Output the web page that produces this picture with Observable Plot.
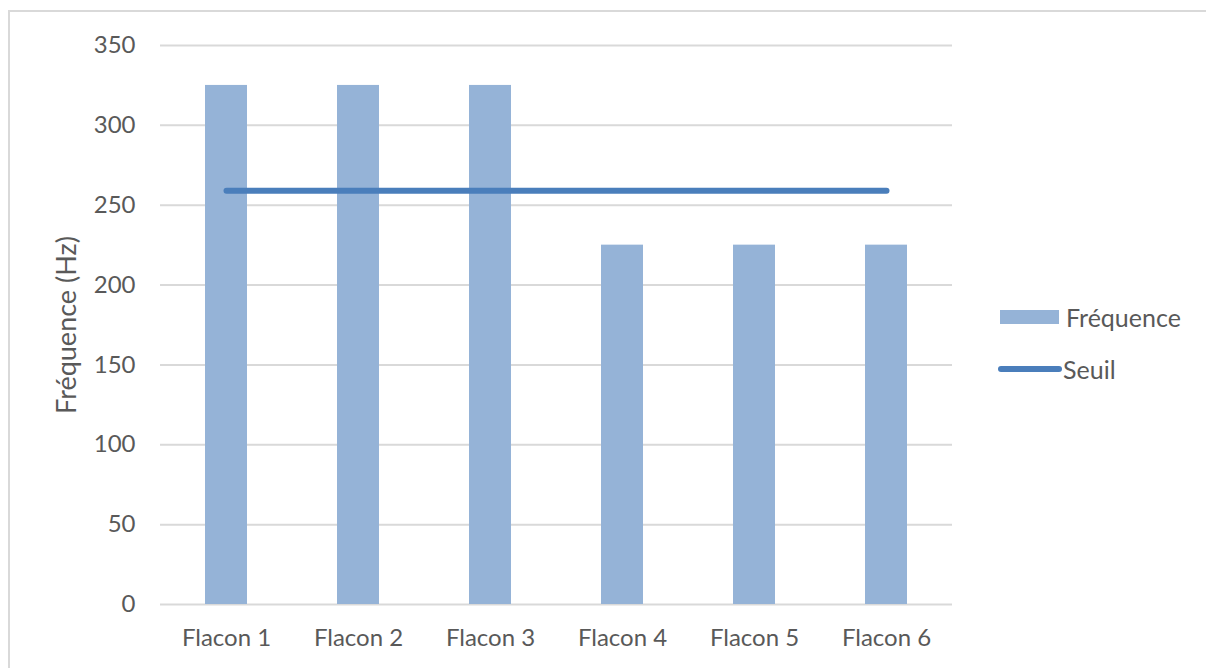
<!DOCTYPE html>
<html>
<head>
<meta charset="utf-8">
<script src="https://cdn.jsdelivr.net/npm/d3@7"></script>
<script src="https://cdn.jsdelivr.net/npm/@observablehq/plot@0.6"></script>
<style>
  html, body { margin: 0; padding: 0; background: #fff; overflow: hidden; }
  #wrap { position: relative; width: 1206px; height: 668px; font-family: Lato, "Liberation Sans", sans-serif; }
  #border { position: absolute; left: 8px; top: 10px; width: 1210px; height: 700px; border: 2px solid #d9d9d9; box-sizing: border-box; }
  #chart { position: absolute; left: 0; top: 0; }
  .legend { position: absolute; left: 998px; font-size: 25px; color: #595959; display: flex; align-items: center; line-height: 30px; }
  .sw-bar { width: 59px; height: 14px; background: #95b3d7; margin-left: 2px; margin-right: 7px; }
  .sw-line { width: 64px; height: 6px; border-radius: 3px; background: #4a7ebb; margin-right: 1px; }
</style>
</head>
<body>
<div id="wrap">
  <div id="border"></div>
  <div id="chart"></div>
  <div class="legend" style="top:302px"><div class="sw-bar"></div><span>Fréquence</span></div>
  <div class="legend" style="top:354px"><div class="sw-line"></div><span>Seuil</span></div>
</div>
<script>
const categories = ["Flacon 1", "Flacon 2", "Flacon 3", "Flacon 4", "Flacon 5", "Flacon 6"];
const frequences = [325, 325, 325, 225, 225, 225];
const seuils = [259, 259, 259, 259, 259, 259];
const yTicks = [0, 50, 100, 150, 200, 250, 300, 350];

const data = categories.map((c, i) => ({cat: c, freq: frequences[i], seuil: seuils[i]}));

const chart = Plot.plot({
  width: 1206,
  height: 668,
  marginLeft: 160,
  marginRight: 254,
  marginTop: 45,
  marginBottom: 64,
  style: {fontFamily: "Lato, 'Liberation Sans', sans-serif", fontSize: "24px", color: "#595959", background: "transparent", overflow: "visible"},
  x: {domain: categories, paddingInner: 0.68, paddingOuter: 0.34, label: null},
  y: {domain: [0, 350], label: null},
  marks: [
    Plot.gridY(yTicks, {stroke: "#d9d9d9", strokeOpacity: 1, strokeWidth: 2}),
    Plot.barY(data, {x: "cat", y: "freq", fill: "#95b3d7"}),
    Plot.lineY(data, {x: "cat", y: "seuil", stroke: "#4a7ebb", strokeWidth: 6, strokeLinecap: "round"}),
    Plot.axisX({tickSize: 0, tickPadding: 24, fontSize: 24, fill: "#595959", label: null}),
    Plot.axisY({ticks: yTicks, tickSize: 0, tickPadding: 25, fontSize: 24, fill: "#595959", label: null}),
    Plot.text(["Fréquence (Hz)"], {frameAnchor: "left", textAnchor: "middle", dx: -93, rotate: -90, fontSize: 27, fill: "#595959"})
  ]
});
document.getElementById("chart").appendChild(chart);
</script>
</body>
</html>
